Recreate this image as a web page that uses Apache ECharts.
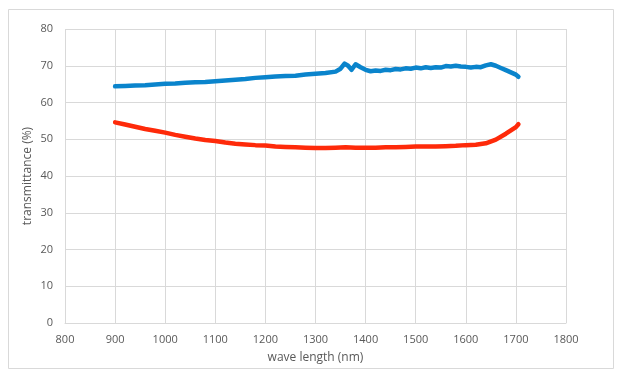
<!DOCTYPE html>
<html>
<head>
<meta charset="utf-8">
<script src="https://cdn.jsdelivr.net/npm/echarts@6/dist/echarts.min.js"></script>
<style>
  html, body { margin: 0; padding: 0; background: #fff; }
  #chart { width: 631px; height: 376px; }
</style>
</head>
<body>
<div id="chart"></div>
<script>
// wavelength (nm) / transmittance (%)
var blueX = [900, 920, 940, 960, 980, 1000, 1020, 1040, 1060, 1080, 1100, 1120, 1140, 1160, 1180, 1200,
  1220, 1240, 1260, 1280, 1300, 1320, 1340, 1350, 1358, 1365, 1372, 1380, 1390, 1400, 1410, 1420, 1430, 1440,
  1450, 1460, 1470, 1480, 1490, 1500, 1510, 1520, 1530, 1540, 1550, 1560, 1570, 1580, 1590, 1600, 1610, 1620,
  1630, 1640, 1650, 1660, 1670, 1680, 1690, 1700, 1705];
var blueY = [64.4, 64.5, 64.6, 64.7, 64.9, 65.1, 65.2, 65.4, 65.5, 65.6, 65.8, 66.0, 66.2, 66.4, 66.7, 66.9,
  67.1, 67.2, 67.3, 67.6, 67.8, 68.0, 68.4, 69.2, 70.6, 70.0, 68.9, 70.4, 69.6, 68.9, 68.5, 68.7, 68.6, 68.9,
  68.8, 69.1, 69.0, 69.3, 69.2, 69.5, 69.3, 69.6, 69.4, 69.6, 69.5, 69.9, 69.8, 70.0, 69.8, 69.7, 69.5, 69.7,
  69.6, 70.1, 70.4, 70.0, 69.4, 68.8, 68.2, 67.6, 67.0];

var redX = [900, 920, 940, 960, 980, 1000, 1020, 1040, 1060, 1080, 1100, 1120, 1140, 1160, 1180, 1200,
  1220, 1240, 1260, 1280, 1300, 1320, 1340, 1360, 1380, 1400, 1420, 1440, 1460, 1480, 1500, 1520, 1540,
  1560, 1580, 1600, 1620, 1640, 1660, 1680, 1690, 1700, 1705];
var redY = [54.6, 54.0, 53.4, 52.8, 52.3, 51.8, 51.2, 50.7, 50.2, 49.8, 49.5, 49.1, 48.8, 48.6, 48.4, 48.3,
  48.0, 47.9, 47.8, 47.7, 47.6, 47.6, 47.7, 47.8, 47.7, 47.7, 47.7, 47.8, 47.8, 47.9, 48.0, 48.0, 48.0,
  48.1, 48.2, 48.4, 48.5, 48.9, 49.9, 51.5, 52.4, 53.3, 54.1];

var xMin = 800, xMax = 1800, xStep = 100;
var yMin = 0, yMax = 80, yStep = 10;

function pairs(xs, ys) {
  return xs.map(function (x, i) { return [x, ys[i]]; });
}

var chart = echarts.init(document.getElementById('chart'));
var textColor = '#595959';
var gridColor = '#d9d9d9';
var font = 'Open Sans, Liberation Sans, sans-serif';

var option = {
  animation: false,
  backgroundColor: '#fff',
  graphic: [{
    type: 'rect',
    shape: { x: 8.5, y: 9.5, width: 605, height: 359 },
    style: { fill: 'none', stroke: gridColor, lineWidth: 1 }
  }],
  grid: { left: 65, right: 65, top: 29, bottom: 53 },
  xAxis: {
    type: 'value',
    min: xMin, max: xMax, interval: xStep,
    name: 'wave length (nm)',
    nameLocation: 'middle',
    nameGap: 29,
    nameMoveOverlap: false,
    nameTextStyle: { color: textColor, fontSize: 12, fontFamily: font },
    axisLine: { show: true, lineStyle: { color: gridColor } },
    axisTick: { show: false },
    axisLabel: {
      color: textColor, fontSize: 11, fontFamily: font, margin: 11,
      formatter: function (v) { return String(v); }
    },
    splitLine: { show: true, lineStyle: { color: gridColor } }
  },
  yAxis: {
    type: 'value',
    min: yMin, max: yMax, interval: yStep,
    name: 'transmittance (%)',
    nameLocation: 'middle',
    nameGap: 31,
    nameMoveOverlap: false,
    nameTextStyle: { color: textColor, fontSize: 12, fontFamily: font },
    axisLine: { show: false },
    axisTick: { show: false },
    axisLabel: { color: textColor, fontSize: 11, fontFamily: font, margin: 12 },
    splitLine: { show: true, lineStyle: { color: gridColor } }
  },
  series: [
    {
      name: 'blue',
      type: 'line',
      data: pairs(blueX, blueY),
      showSymbol: false,
      lineStyle: { color: '#0a84cc', width: 4.5, cap: 'round', join: 'round' },
      itemStyle: { color: '#0a84cc' }
    },
    {
      name: 'red',
      type: 'line',
      data: pairs(redX, redY),
      showSymbol: false,
      lineStyle: { color: '#fe2a0a', width: 4.5, cap: 'round', join: 'round' },
      itemStyle: { color: '#fe2a0a' }
    }
  ]
};
chart.setOption(option);
</script>
</body>
</html>
